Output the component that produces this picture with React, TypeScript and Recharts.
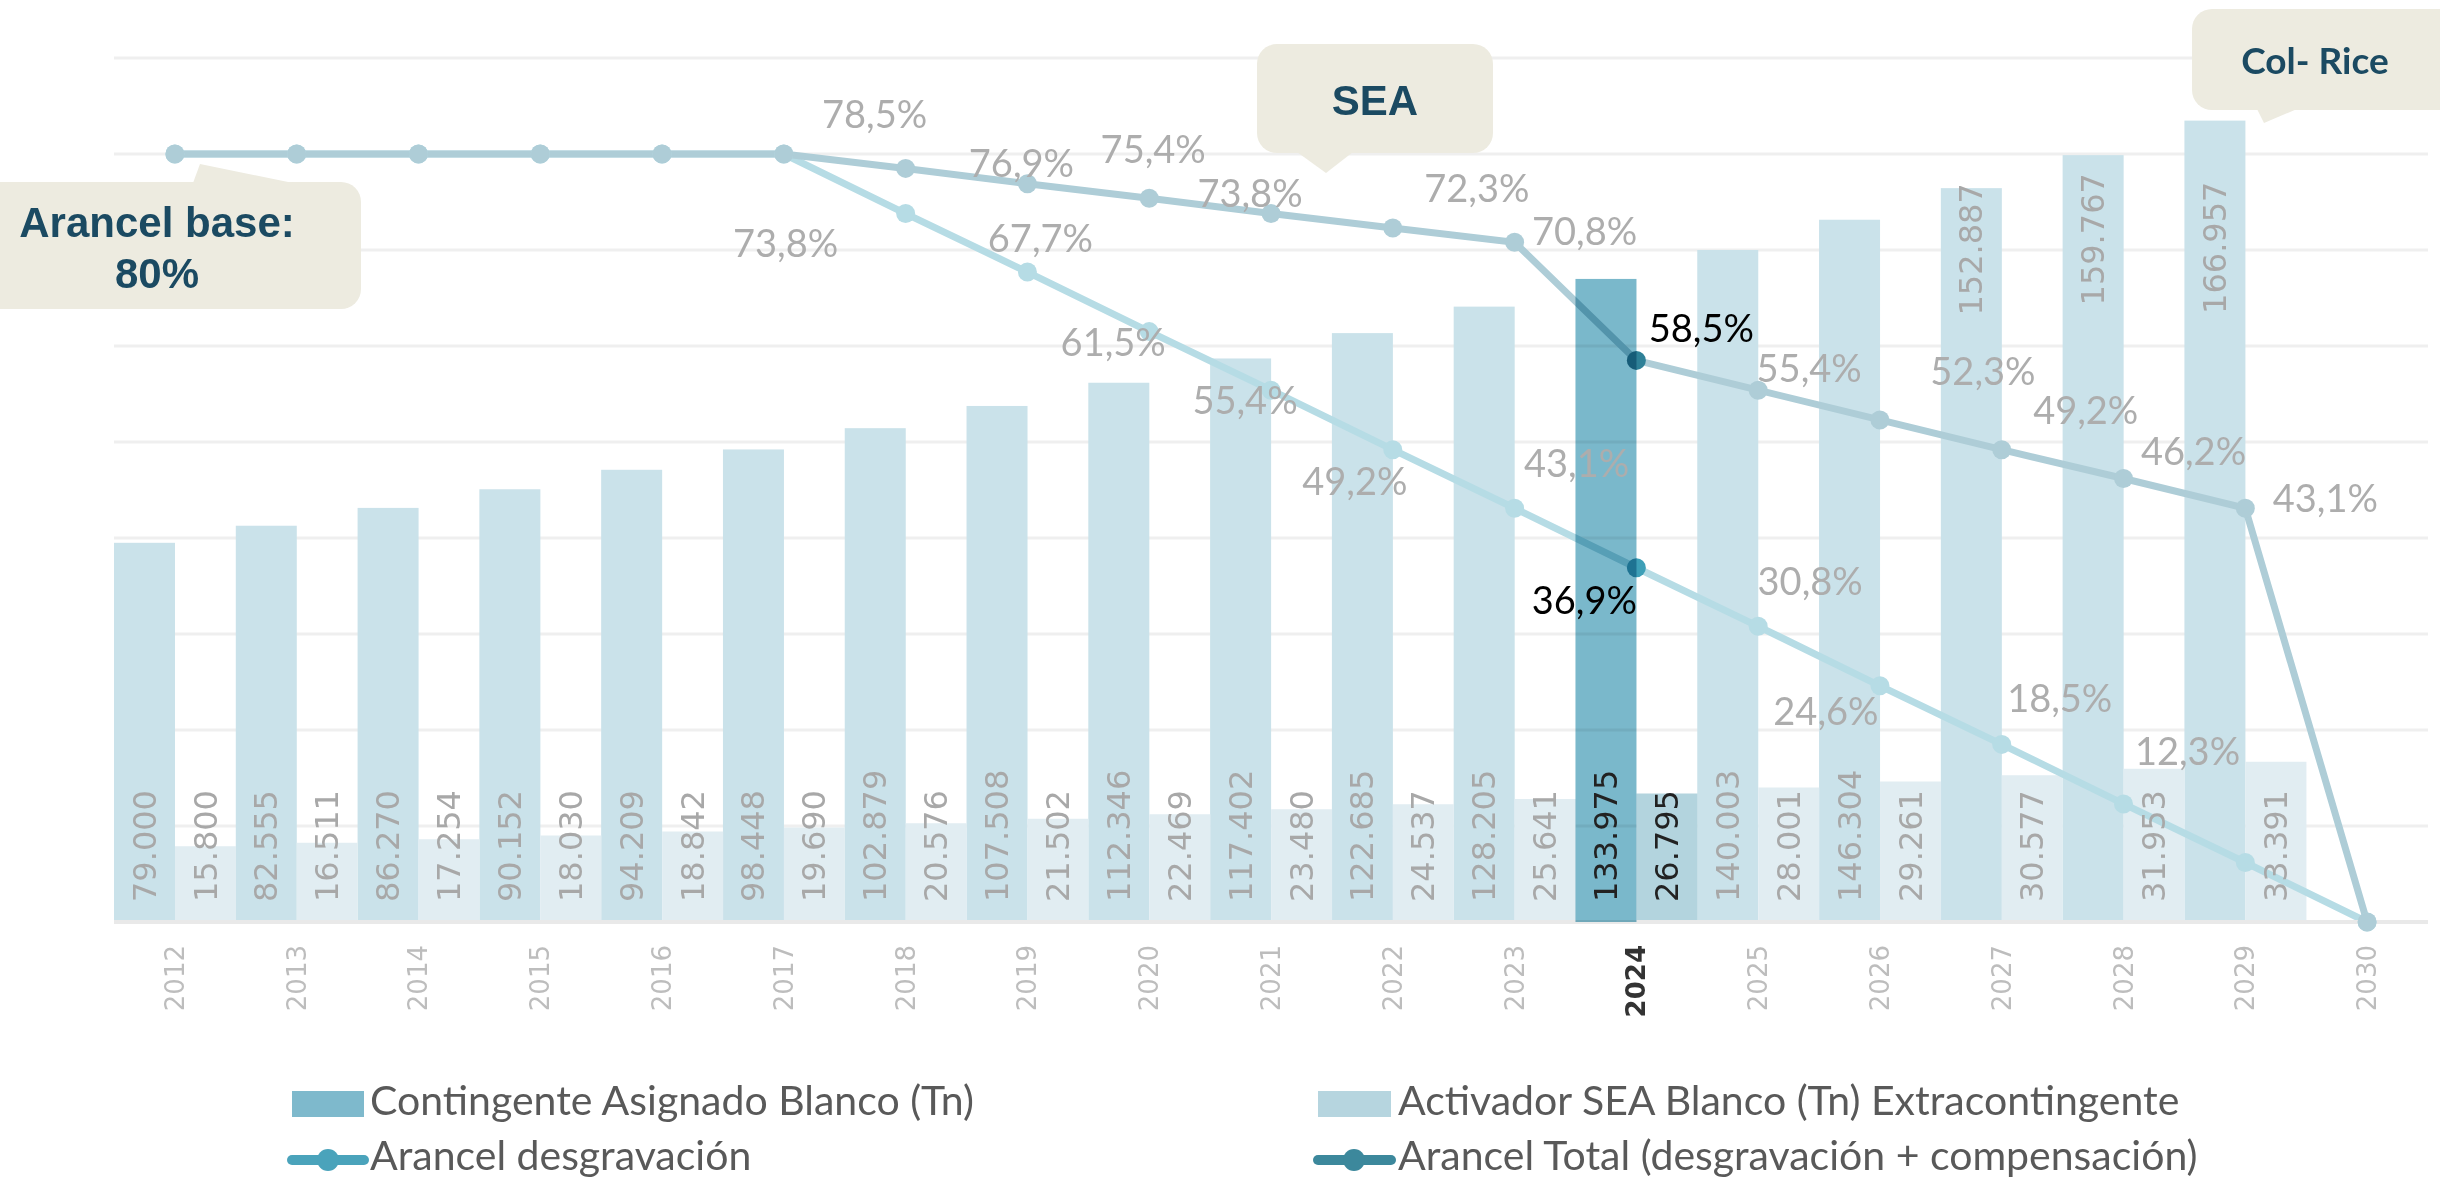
import React from 'react';
import { ComposedChart, Bar, Line, XAxis, YAxis, CartesianGrid, LabelList, Cell } from 'recharts';

// ---------- DATA ----------
const years = ['2012', '2013', '2014', '2015', '2016', '2017', '2018', '2019', '2020', '2021', '2022', '2023', '2024', '2025', '2026', '2027', '2028', '2029', '2030'];
const contingenteAsignado = [79000, 82555, 86270, 90152, 94209, 98448, 102879, 107508, 112346, 117402, 122685, 128205, 133975, 140003, 146304, 152887, 159767, 166957, null];
const activadorSEA = [15800, 16511, 17254, 18030, 18842, 19690, 20576, 21502, 22469, 23480, 24537, 25641, 26795, 28001, 29261, 30577, 31953, 33391, null];
const arancelDesgravacion = [0.8, 0.8, 0.8, 0.8, 0.8, 0.8, 0.738, 0.677, 0.615, 0.554, 0.492, 0.431, 0.369, 0.308, 0.246, 0.185, 0.123, 0.062, 0];
const arancelTotal = [0.8, 0.8, 0.8, 0.8, 0.8, 0.8, 0.785, 0.769, 0.754, 0.738, 0.723, 0.708, 0.585, 0.554, 0.523, 0.492, 0.462, 0.431, 0];
const highlightYear = '2024';
const tonTicks = [0, 20000, 40000, 60000, 80000, 100000, 120000, 140000, 160000, 180000];
const tonDomain = [0, 180000];
const pctDomain = [0, 0.9];
const seriesNames = {
  contingente: 'Contingente Asignado Blanco (Tn)',
  activador: 'Activador SEA Blanco (Tn) Extracontingente',
  desg: 'Arancel desgravación',
  total: 'Arancel Total (desgravación + compensación)',
};
const calloutTexts = { base: ['Arancel base:', '80%'], sea: 'SEA', rice: 'Col- Rice' };

// ---------- STYLE ----------
const C = {
  contFaded: '#cae2ea',
  contHi: '#7ab8cb',
  actFaded: '#e1edf2',
  actHi: '#b3d4de',
  desgLine: '#b6dce5',
  totalLine: '#aecdd7',
  desgDotHi: '#3d9fb7',
  totalDotHi: '#2e8097',
  grid: '#efefef',
  axis: '#e9e9e9',
  barLabel: '#a8a8a8',
  tick: '#bdbdbd',
  pctLabel: '#adadad',
  dark: '#222222',
  calloutFill: '#edebe0',
  calloutText: '#1b4a62',
  legendText: '#595959',
  legCont: '#7eb9cc',
  legAct: '#b6d5df',
  legDesg: '#4aa3bb',
  legTotal: '#3c889c',
};
// label offsets (dx, dy) from each point, in px
const totalLabelOffset: Record<string, [number, number]> = {
  '2018': [-31, -55], '2019': [-6, -22], '2020': [4, -50], '2021': [-21, -22], '2022': [84, -41], '2023': [70, -12],
  '2024': [65, -33], '2025': [51, -23], '2026': [103, -50], '2027': [84, -41], '2028': [70, -28], '2029': [80, -11],
};
const desgLabelOffset: Record<string, [number, number]> = {
  '2018': [-120, 28], '2019': [13, -35], '2020': [-36, 9], '2021': [-26, 9], '2022': [-38, 30], '2023': [62, -46],
  '2024': [-52, 31], '2025': [52, -46], '2026': [-54, 24], '2027': [58, -47], '2028': [64, -54],
};
// big-bar labels placed near the top (offset of label end from bar top)
const topLabelOffset: Record<string, number> = { '2027': -5, '2028': 18, '2029': 61 };

const data = years.map((year, i) => {
  const c = contingenteAsignado[i];
  const isHi = year === highlightYear;
  return {
    year,
    contBase: c == null ? null : isHi ? 0 : c,
    contHi: c == null ? null : isHi ? c : 0,
    activador: activadorSEA[i],
    desg: arancelDesgravacion[i],
    total: arancelTotal[i],
  };
});

const fmtTons = (v: number) => String(Math.round(v)).replace(/\B(?=(\d{3})+(?!\d))/g, '.');
const fmtPct = (v: number) => (v * 100).toFixed(1).replace('.', ',') + '%';

const makeBarLabel = (values: (number | null)[], allowTop: boolean, mode: 'base' | 'hi' | 'all') => (props: any) => {
  const { x, y, width, height, index } = props;
  if (index == null || index < 0 || index >= years.length) return null;
  const v = values[index];
  if (v == null) return null;
  const year = years[index];
  const hi = year === highlightYear;
  if (mode === 'hi' && !hi) return null;
  if (mode === 'base' && hi) return null;
  if (!height || height <= 0) return null;
  const cx = x + width / 2;
  let ty = y + height - 20;
  let anchor = 'start';
  if (allowTop && topLabelOffset[year] !== undefined) {
    ty = y + topLabelOffset[year];
    anchor = 'end';
  }
  return (
    <text
      key={`bl-${index}`}
      x={cx}
      y={ty}
      transform={`rotate(-90 ${cx} ${ty})`}
      textAnchor={anchor}
      dominantBaseline="central"
      fontFamily="'DejaVu Sans', Verdana, sans-serif"
      fontSize={32}
      fill={hi ? C.dark : C.barLabel}
    >
      {fmtTons(v)}
    </text>
  );
};

const makePctLabel = (offsets: Record<string, [number, number]>) => (props: any) => {
  const { x, y, index, value } = props;
  const year = years[index];
  const off = offsets[year];
  if (!off || value == null) return null;
  const hi = year === highlightYear;
  return (
    <text
      key={`pl-${index}`}
      x={x + off[0]}
      y={y + off[1]}
      textAnchor="middle"
      dominantBaseline="central"
      fontFamily="Lato, 'Open Sans', sans-serif"
      fontSize={38}
      fill={hi ? '#000' : C.pctLabel}
    >
      {fmtPct(value)}
    </text>
  );
};

const makeDot = (color: string, hiColor: string) => (props: any) => {
  const { cx, cy, index } = props;
  if (cx == null || cy == null) return null;
  return <circle key={`d-${index}`} cx={cx} cy={cy} r={9.5} fill={years[index] === highlightYear ? hiColor : color} />;
};

const YearTick = (props: any) => {
  const { x, y, payload } = props;
  const hi = payload.value === highlightYear;
  const ty = y + 23;
  return (
    <text
      x={x}
      y={ty}
      transform={`rotate(-90 ${x} ${ty})`}
      textAnchor="end"
      dominantBaseline="central"
      fontFamily="'DejaVu Sans', Verdana, sans-serif"
      fontSize={26}
      fontWeight={hi ? 'bold' : 'normal'}
      fill={hi ? '#333' : C.tick}
    >
      {payload.value}
    </text>
  );
};

const PlainRect = (props: any) => {
  const { x, y, width, height, fill } = props;
  if (!height || height <= 0) return null;
  return <rect x={x} y={y} width={width} height={height} fill={fill} />;
};

const MultiplyRect = (props: any) => {
  const { x, y, width, height, fill } = props;
  if (!height || height <= 0) return null;
  return <rect x={x} y={y} width={width} height={height} fill={fill} style={{ mixBlendMode: 'multiply' }} />;
};

const Callouts = () => (
  <g>
    {/* Arancel base */}
    <rect x={-30} y={182} width={391} height={127} rx={20} fill={C.calloutFill} />
    <polygon points="193,183 293,183 200,164" fill={C.calloutFill} />
    <text x={157} y={237} textAnchor="middle" fontFamily="'Liberation Sans', Arial, sans-serif" fontWeight="bold" fontSize={42} fill={C.calloutText}>{calloutTexts.base[0]}</text>
    <text x={157} y={288} textAnchor="middle" fontFamily="'Liberation Sans', Arial, sans-serif" fontWeight="bold" fontSize={42} fill={C.calloutText}>{calloutTexts.base[1]}</text>
    {/* SEA */}
    <rect x={1257} y={44} width={236} height={109} rx={20} fill={C.calloutFill} />
    <polygon points="1297,152 1353,152 1326,173" fill={C.calloutFill} />
    <text x={1375} y={115} textAnchor="middle" fontFamily="'Liberation Sans', Arial, sans-serif" fontWeight="bold" fontSize={42} fill={C.calloutText}>{calloutTexts.sea}</text>
    {/* Col- Rice */}
    <rect x={2192} y={9} width={280} height={101} rx={20} fill={C.calloutFill} />
    <polygon points="2257,109 2297,109 2264,123" fill={C.calloutFill} />
    <text x={2315} y={74} textAnchor="middle" fontFamily="Lato, sans-serif" fontWeight="bold" fontSize={37} fill={C.calloutText}>{calloutTexts.rice}</text>
  </g>
);

const LegendBlock = () => {
  const font = { fontFamily: "Lato, 'Open Sans', sans-serif", fontSize: 41, fill: C.legendText };
  return (
    <g>
      <rect x={292} y={1091} width={72} height={26} fill={C.legCont} />
      <text x={370} y={1115} {...font}>{seriesNames.contingente}</text>
      <rect x={1318} y={1091} width={73} height={26} fill={C.legAct} />
      <text x={1398} y={1115} {...font}>{seriesNames.activador}</text>
      <line x1={292} y1={1160} x2={364} y2={1160} stroke={C.legDesg} strokeWidth={10} strokeLinecap="round" />
      <circle cx={328} cy={1160} r={11} fill={C.legDesg} />
      <text x={370} y={1170} {...font}>{seriesNames.desg}</text>
      <line x1={1318} y1={1160} x2={1391} y2={1160} stroke={C.legTotal} strokeWidth={10} strokeLinecap="round" />
      <circle cx={1354} cy={1160} r={11} fill={C.legTotal} />
      <text x={1398} y={1170} {...font}>{seriesNames.total}</text>
    </g>
  );
};

export default function App() {
  return (
    <div style={{ position: 'absolute', left: 0, top: 0, width: 2440, height: 1180, background: '#fff', overflow: 'hidden' }}>
      <ComposedChart
        width={2440}
        height={1180}
        data={data}
        margin={{ top: 58, right: 12, bottom: 158, left: 114 }}
        barCategoryGap={0}
        barGap={0}
      >
        <CartesianGrid yAxisId="tons" vertical={false} stroke={C.grid} strokeWidth={3} />
        <XAxis
          dataKey="year"
          interval={0}
          tickLine={false}
          tickSize={0}
          tickMargin={0}
          height={100}
          axisLine={{ stroke: C.axis, strokeWidth: 4 }}
          tick={<YearTick />}
        />
        <YAxis yAxisId="tons" hide domain={tonDomain} ticks={tonTicks} />
        <YAxis yAxisId="pct" hide orientation="right" domain={pctDomain} />
        <Bar yAxisId="tons" dataKey="contBase" stackId="cont" fill={C.contFaded} shape={<PlainRect />} isAnimationActive={false}>
          <LabelList dataKey="contBase" content={makeBarLabel(contingenteAsignado, true, 'base')} />
        </Bar>
        <Bar yAxisId="tons" dataKey="activador" fill={C.actFaded} isAnimationActive={false}>
          {data.map((d) => (
            <Cell key={d.year} fill={d.year === highlightYear ? C.actHi : C.actFaded} />
          ))}
          <LabelList dataKey="activador" content={makeBarLabel(activadorSEA, false, 'all')} />
        </Bar>
        <Line
          yAxisId="pct"
          dataKey="desg"
          stroke={C.desgLine}
          strokeWidth={7}
          dot={makeDot(C.desgLine, C.desgDotHi)}
          activeDot={false}
          isAnimationActive={false}
        >
          <LabelList dataKey="desg" content={makePctLabel(desgLabelOffset)} />
        </Line>
        <Line
          yAxisId="pct"
          dataKey="total"
          stroke={C.totalLine}
          strokeWidth={7}
          dot={makeDot(C.totalLine, C.totalDotHi)}
          activeDot={false}
          isAnimationActive={false}
        >
          <LabelList dataKey="total" content={makePctLabel(totalLabelOffset)} />
        </Line>
        <Bar
          yAxisId="tons"
          dataKey="contHi"
          stackId="cont"
          fill={C.contHi}
          shape={<MultiplyRect />}
          isAnimationActive={false}
          {...({ zIndex: 1000 } as any)}
        >
          <LabelList dataKey="contHi" content={makeBarLabel(contingenteAsignado, true, 'hi')} />
        </Bar>
      </ComposedChart>
      <svg width={2440} height={1180} style={{ position: 'absolute', left: 0, top: 0, pointerEvents: 'none' }}>
        <Callouts />
        <LegendBlock />
      </svg>
    </div>
  );
}
